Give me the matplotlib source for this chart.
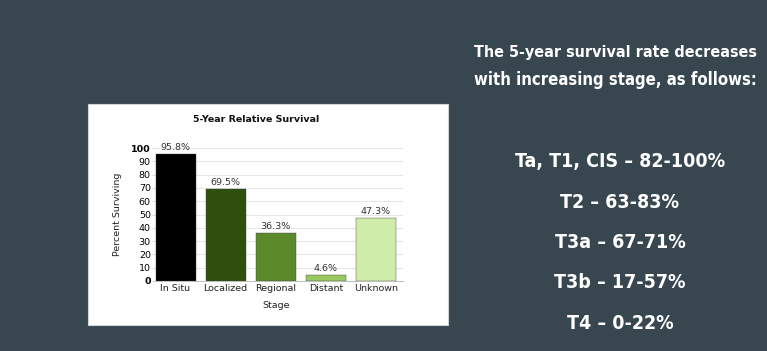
import matplotlib
matplotlib.use("Agg")
import matplotlib.pyplot as plt
from matplotlib.patches import Rectangle
from matplotlib import font_manager

stages = ["In Situ", "Localized", "Regional", "Distant", "Unknown"]
survival = [95.8, 69.5, 36.3, 4.6, 47.3]
bar_colors = ["#000000", "#2f4f0f", "#5c8a2a", "#98c860", "#d0ecaa"]
yticks = [0, 10, 20, 30, 40, 50, 60, 70, 80, 90, 100]
header = ["The 5-year survival rate decreases", "with increasing stage, as follows:"]
items = ["Ta, T1, CIS – 82-100%", "T2 – 63-83%", "T3a – 67-71%", "T3b – 17-57%", "T4 – 0-22%"]

W, H = 767, 351
fig = plt.figure(figsize=(W / 100, H / 100), dpi=100)
bg = "#37464f"
fig.patch.set_facecolor(bg)

# white chart panel
fig.patches.append(Rectangle((88 / W, 1 - 325 / H), (448 - 88) / W, (325 - 104) / H,
                             transform=fig.transFigure, facecolor="white",
                             edgecolor="#cfd4d6", linewidth=0.8, zorder=-5))

ax = fig.add_axes([155 / W, 1 - 281 / H, (403 - 155) / W, (281 - 148) / H])
ax.set_zorder(2)
ax.set_facecolor("white")
x = list(range(len(stages)))
bars = ax.bar(x, survival, width=0.8, color=bar_colors, edgecolor="#444444",
              linewidth=0.3, zorder=3)
for xi, v in zip(x, survival):
    ax.text(xi, v + 1.5, f"{v}%", ha="center", va="bottom", fontsize=6.8,
            color="#333333", zorder=4)
ax.set_xlim(-0.41, 4.54)
ax.set_ylim(0, 100)
ax.set_yticks(yticks)
labels = ax.set_yticklabels([str(t) for t in yticks], fontsize=6.8)
for lab, t in zip(labels, yticks):
    if t in (0, 100):
        lab.set_fontweight("bold")
ax.set_xticks(x)
ax.set_xticklabels(stages, fontsize=6.8, color="#222222")
ax.tick_params(axis="x", length=0, pad=2)
ax.tick_params(axis="y", length=2, width=0.5, color="#cccccc", pad=1)
ax.grid(axis="y", color="#e6e6e6", linewidth=0.7, zorder=0)
for s in ["top", "right", "left"]:
    ax.spines[s].set_visible(False)
ax.spines["bottom"].set_color("#bbbbbb")
ax.spines["bottom"].set_linewidth(0.7)
ax.set_axisbelow(True)

fig.text(118 / W, 1 - 214 / H, "Percent Surviving", rotation=90, ha="center",
         va="center", fontsize=6.8, color="#222222")
fig.text(276 / W, 1 - 305 / H, "Stage", ha="center", va="center", fontsize=6.8,
         color="#222222")
fig.text(256 / W, 1 - 119 / H, "5-Year Relative Survival", ha="center", va="center",
         fontsize=6.8, fontweight="bold", color="#111111")

names = {f.name for f in font_manager.fontManager.ttflist}
if "Liberation Sans Narrow" in names:
    fam, stretch = ["Liberation Sans Narrow", "DejaVu Sans"], "normal"
else:
    fam, stretch = ["DejaVu Sans"], "condensed"
for i, line in enumerate(header):
    fig.text(474 / W, 1 - (52 + 28 * i) / H, line, ha="left", va="center",
             fontsize=13.5, fontweight="bold", color="white", family=fam,
             fontstretch=stretch)
for i, line in enumerate(items):
    fig.text(620 / W, 1 - (162 + 40.3 * i) / H, line, ha="center", va="center",
             fontsize=14, fontweight="bold", color="white", family=fam,
             fontstretch=stretch)

# fit header width to reference (474..757 px)
fig.canvas.draw()
r = fig.canvas.get_renderer()
for t in fig.texts[-7:-5]:
    w = t.get_window_extent(r).width
    target = 757 - 474
    if w > target:
        t.set_fontsize(t.get_fontsize() * target / w)

fig.savefig("out.png", dpi=100, facecolor=bg)
